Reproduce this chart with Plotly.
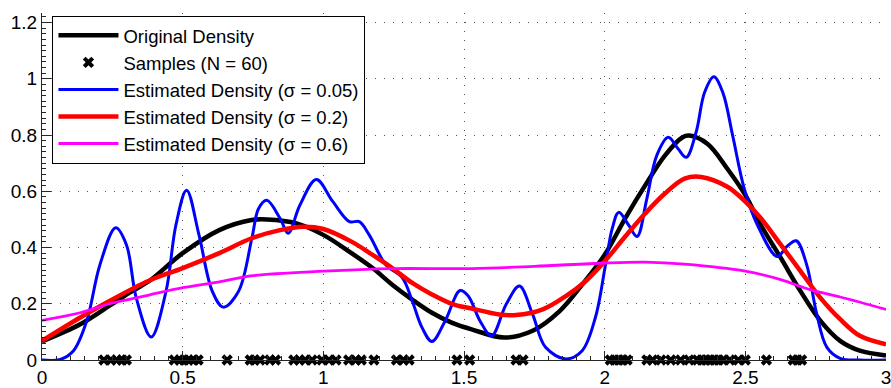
import plotly.graph_objects as go

# ---------------- data ----------------
orig_x = [0, 0.136, 0.24, 0.31, 0.38, 0.5, 0.63, 0.745, 0.80, 0.905, 1.0, 1.10, 1.175,
          1.245, 1.316, 1.386, 1.456, 1.527, 1.643, 1.744, 1.84, 1.92, 2.0, 2.073, 2.144,
          2.214, 2.277, 2.30, 2.366, 2.436, 2.5, 2.555, 2.626, 2.696, 2.767, 2.837, 2.907, 3.0]
orig_y = [0.066, 0.127, 0.193, 0.239, 0.28, 0.38, 0.462, 0.498, 0.50, 0.486, 0.445, 0.38, 0.327,
          0.268, 0.215, 0.168, 0.133, 0.109, 0.08, 0.104, 0.174, 0.268, 0.374, 0.504, 0.621,
          0.727, 0.792, 0.798, 0.768, 0.68, 0.586, 0.48, 0.363, 0.245, 0.139, 0.068, 0.033, 0.016]

samples_x = [0.22, 0.245, 0.265, 0.285, 0.30,
             0.47, 0.49, 0.505, 0.52, 0.54, 0.555,
             0.658,
             0.74, 0.755, 0.775, 0.81, 0.83,
             0.895, 0.915, 0.935, 0.96, 0.995, 1.02, 1.045,
             1.09, 1.115, 1.135, 1.18,
             1.26, 1.285, 1.305,
             1.475, 1.52,
             1.685, 1.71,
             2.02, 2.035, 2.05, 2.065, 2.08,
             2.15, 2.17,
             2.2, 2.235,
             2.27, 2.30,
             2.33, 2.345, 2.36, 2.375, 2.39, 2.405, 2.42,
             2.445,
             2.475, 2.50,
             2.575,
             2.67, 2.685, 2.70]
samples_y = [0.0] * len(samples_x)

est005_x = [0, 0.065, 0.112, 0.159, 0.206, 0.262, 0.30, 0.335, 0.388, 0.441, 0.476, 0.514,
            0.558, 0.605, 0.644, 0.699, 0.746, 0.77, 0.799, 0.846, 0.875, 0.917, 0.975, 1.034,
            1.093, 1.128, 1.163, 1.222, 1.281, 1.316, 1.351, 1.386, 1.433, 1.486, 1.515, 1.557,
            1.598, 1.65, 1.697, 1.744, 1.79, 1.862, 1.92, 1.967, 2.003, 2.027, 2.05, 2.085,
            2.115, 2.15, 2.185, 2.226, 2.261, 2.29, 2.325, 2.355, 2.388, 2.42, 2.455, 2.496,
            2.543, 2.613, 2.648, 2.681, 2.718, 2.754, 2.79, 2.837, 2.907, 3.0]
est005_y = [0.0, 0.002, 0.033, 0.139, 0.339, 0.47, 0.41, 0.221, 0.082, 0.245, 0.48, 0.604,
            0.445, 0.245, 0.188, 0.245, 0.433, 0.539, 0.568, 0.504, 0.451, 0.551, 0.642, 0.563,
            0.492, 0.492, 0.445, 0.339, 0.292, 0.21, 0.115, 0.066, 0.139, 0.247, 0.228, 0.139,
            0.086, 0.198, 0.263, 0.162, 0.045, 0.004, 0.033, 0.151, 0.339, 0.468, 0.525, 0.48,
            0.439, 0.574, 0.727, 0.792, 0.751, 0.721, 0.81, 0.951, 1.007, 0.951, 0.798, 0.61,
            0.48, 0.368, 0.404, 0.424, 0.339, 0.162, 0.045, 0.006, 0.0, 0.0]

est02_x = [0, 0.136, 0.24, 0.38, 0.5, 0.63, 0.745, 0.846, 0.928, 1.0, 1.10, 1.175, 1.245,
           1.316, 1.386, 1.456, 1.527, 1.626, 1.685, 1.78, 1.862, 1.932, 2.0, 2.073, 2.144,
           2.214, 2.284, 2.343, 2.436, 2.5, 2.555, 2.626, 2.696, 2.767, 2.837, 2.907, 3.0]
est02_y = [0.068, 0.151, 0.21, 0.282, 0.327, 0.38, 0.433, 0.462, 0.474, 0.466, 0.421, 0.374, 0.327,
           0.274, 0.233, 0.2, 0.183, 0.162, 0.16, 0.18, 0.227, 0.28, 0.351, 0.439, 0.521,
           0.592, 0.645, 0.651, 0.616, 0.563, 0.504, 0.41, 0.316, 0.221, 0.145, 0.086, 0.056]

est06_x = [0, 0.136, 0.24, 0.38, 0.5, 0.63, 0.75, 1.0, 1.245, 1.527, 1.75, 2.0, 2.144,
           2.284, 2.5, 2.626, 2.73, 2.837, 3.0]
est06_y = [0.141, 0.168, 0.2, 0.231, 0.257, 0.278, 0.3, 0.316, 0.325, 0.325, 0.333, 0.345, 0.348,
           0.341, 0.316, 0.286, 0.25, 0.224, 0.18]

x_ticks = [0, 0.5, 1, 1.5, 2, 2.5, 3]
y_ticks = [0, 0.2, 0.4, 0.6, 0.8, 1, 1.2]

# ---------------- figure ----------------
FONT = "Liberation Sans, Arial, Helvetica, sans-serif"
fig = go.Figure()

fig.add_trace(go.Scatter(x=orig_x, y=orig_y, mode="lines", name="Original Density",
                         line=dict(color="black", width=4.5, shape="spline", smoothing=1)))
fig.add_trace(go.Scatter(x=samples_x, y=samples_y, mode="markers", name="Samples (N = 60)",
                         marker=dict(symbol="x", size=10, color="black"), cliponaxis=False))
fig.add_trace(go.Scatter(x=est005_x, y=est005_y, mode="lines", name="Estimated Density (σ = 0.05)",
                         line=dict(color="#0000ff", width=3, shape="spline", smoothing=1)))
fig.add_trace(go.Scatter(x=est02_x, y=est02_y, mode="lines", name="Estimated Density (σ = 0.2)",
                         line=dict(color="#ff0000", width=4.5, shape="spline", smoothing=1)))
fig.add_trace(go.Scatter(x=est06_x, y=est06_y, mode="lines", name="Estimated Density (σ = 0.6)",
                         line=dict(color="#ff00ff", width=2.8, shape="spline", smoothing=1)))

axis_common = dict(
    showline=True, linecolor="#262626", linewidth=1,
    ticks="inside", ticklen=9, tickcolor="#262626", tickwidth=1,
    showgrid=True, gridcolor="#555555", gridwidth=1, griddash="1px,8px",
    zeroline=False, mirror=False, ticklabeloverflow="allow",
    tickfont=dict(family=FONT, size=19, color="black"),
)

fig.update_xaxes(range=[0, 3], tickvals=x_ticks, ticktext=[f"{v:g}" for v in x_ticks],
                 minor=dict(dtick=0.05, ticks="inside", ticklen=4, tickcolor="#262626", showgrid=False),
                 **axis_common)
fig.update_yaxes(range=[0, 1.234], tickvals=y_ticks, ticktext=[f"{v:g}" for v in y_ticks],
                 minor=dict(dtick=0.02, ticks="inside", ticklen=4, tickcolor="#262626", showgrid=False),
                 **axis_common)

fig.update_layout(
    width=891, height=388,
    margin=dict(l=42, r=0, t=13, b=25),
    paper_bgcolor="white", plot_bgcolor="white",
    font=dict(family=FONT, size=19, color="black"),
    showlegend=True,
    legend=dict(x=0.0124, y=0.992, xanchor="left", yanchor="top",
                bgcolor="white", bordercolor="black", borderwidth=1,
                font=dict(family=FONT, size=18.5, color="black"),
                itemwidth=60, tracegroupgap=0),
)

fig.write_html("out.html")
